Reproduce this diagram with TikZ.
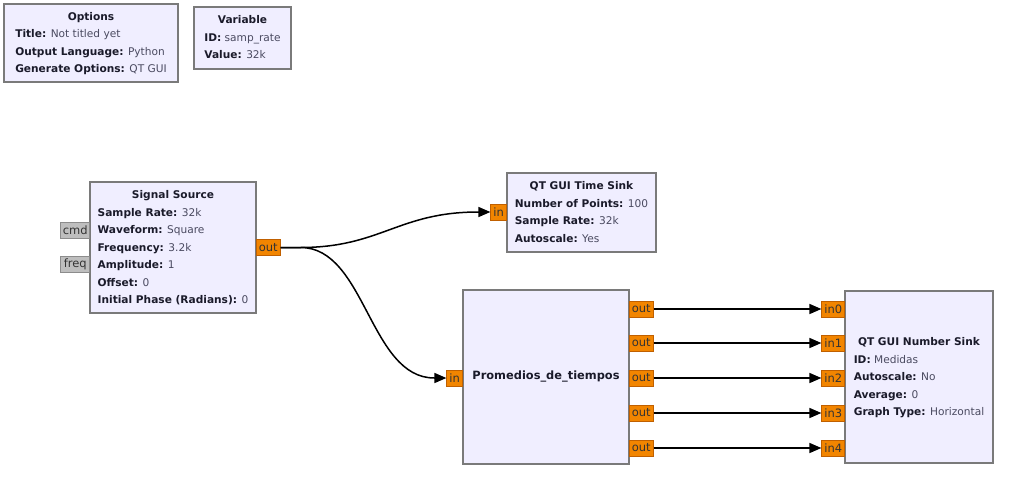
\documentclass[tikz,border=0pt]{standalone}
\usepackage{fontspec}
\setmainfont{DejaVu Sans}
\usetikzlibrary{arrows.meta}
\definecolor{blockfill}{HTML}{F0EEFF}
\definecolor{blockdraw}{HTML}{7A7A7A}
\definecolor{portfill}{HTML}{F28500}
\definecolor{portdraw}{HTML}{C06000}
\definecolor{msgfill}{HTML}{BEBEBE}
\definecolor{msgdraw}{HTML}{8C8C8C}
\definecolor{keycol}{HTML}{1A1A2A}
\definecolor{valcol}{HTML}{4A4A60}
\newcommand{\kv}[2]{\textbf{\color{keycol}#1:} {\color{valcol}#2}}
\newcommand{\ttl}[1]{\multicolumn{1}{@{}c@{}}{\textbf{\color{keycol}#1}}}
\tikzset{
 block/.style={draw=blockdraw, line width=1.8pt, fill=blockfill, inner sep=0pt, font=\fontsize{10.6}{17.5}\selectfont},
 port/.style={draw=portdraw, fill=portfill, line width=0.6pt, inner sep=0pt, minimum height=16pt, font=\fontsize{11.5}{10}\selectfont, text=black!80},
 msgport/.style={port, draw=msgdraw, fill=msgfill},
 conn/.style={line width=1.5pt, -{Triangle[length=12pt,width=10pt]}},
}
\begin{document}
\begin{tikzpicture}[x=1pt,y=-1pt]
\useasboundingbox (0,0) rectangle (1020,487);
% blocks
\node[block, minimum width=174pt, minimum height=78pt] (opt) at (91,43) {\begin{tabular}{@{}l@{}}\ttl{Options}\\ \kv{Title}{Not titled yet}\\ \kv{Output Language}{Python}\\ \kv{Generate Options}{QT GUI}\end{tabular}};
\node[block, minimum width=97pt, minimum height=62pt] (var) at (242.5,38) {\begin{tabular}{@{}l@{}}\ttl{Variable}\\ \kv{ID}{samp\_rate}\\ \kv{Value}{32k}\end{tabular}};
\node[block, minimum width=166pt, minimum height=131pt] (ss) at (173,247.5) {\begin{tabular}{@{}l@{}}\ttl{Signal Source}\\ \kv{Sample Rate}{32k}\\ \kv{Waveform}{Square}\\ \kv{Frequency}{3.2k}\\ \kv{Amplitude}{1}\\ \kv{Offset}{0}\\ \kv{Initial Phase (Radians)}{0}\end{tabular}};
\node[block, minimum width=149pt, minimum height=79pt] (ts) at (581.5,212.5) {\begin{tabular}{@{}l@{}}\ttl{QT GUI Time Sink}\\ \kv{Number of Points}{100}\\ \kv{Sample Rate}{32k}\\ \kv{Autoscale}{Yes}\end{tabular}};
\node[block, minimum width=166pt, minimum height=174pt, font=\fontsize{11.4}{17.5}\selectfont] (pr) at (546,377) {\textbf{\color{keycol}Promedios\_de\_tiempos}};
\node[block, minimum width=148pt, minimum height=172pt] (ns) at (919,377) {\begin{tabular}{@{}l@{}}\ttl{QT GUI Number Sink}\\ \kv{ID}{Medidas}\\ \kv{Autoscale}{No}\\ \kv{Average}{0}\\ \kv{Graph Type}{Horizontal}\end{tabular}};
% ports
\node[msgport, anchor=east, minimum width=29pt] (cmd) at (90,230) {cmd};
\node[msgport, anchor=east, minimum width=29pt] (freq) at (90,264.5) {freq};
\node[port, anchor=west, minimum width=24pt] (ssout) at (256,247.5) {out};
\node[port, anchor=east, minimum width=16pt] (tsin) at (507,212) {in};
\node[port, anchor=east, minimum width=16pt] (prin) at (463,378) {in};
\foreach \i/\y in {0/309,1/343,2/378,3/413,4/448}{
  \node[port, anchor=west, minimum width=24pt] (pro\i) at (629,\y) {out};
  \node[port, anchor=east, minimum width=23pt] (nsi\i) at (845,\y) {in\i};
}
% connections
\draw[conn] (ssout.east) -- ++(20,0) .. controls +(80,0) and +(-80,0) .. ([xshift=-12pt]tsin.west) -- (tsin.west);
\draw[conn] (ssout.east) -- ++(20,0) .. controls +(65,0) and +(-65,0) .. ([xshift=-12pt]prin.west) -- (prin.west);
\foreach \i in {0,...,4}{
  \draw[conn] (pro\i.east) -- (nsi\i.west);
}
\end{tikzpicture}
\end{document}
